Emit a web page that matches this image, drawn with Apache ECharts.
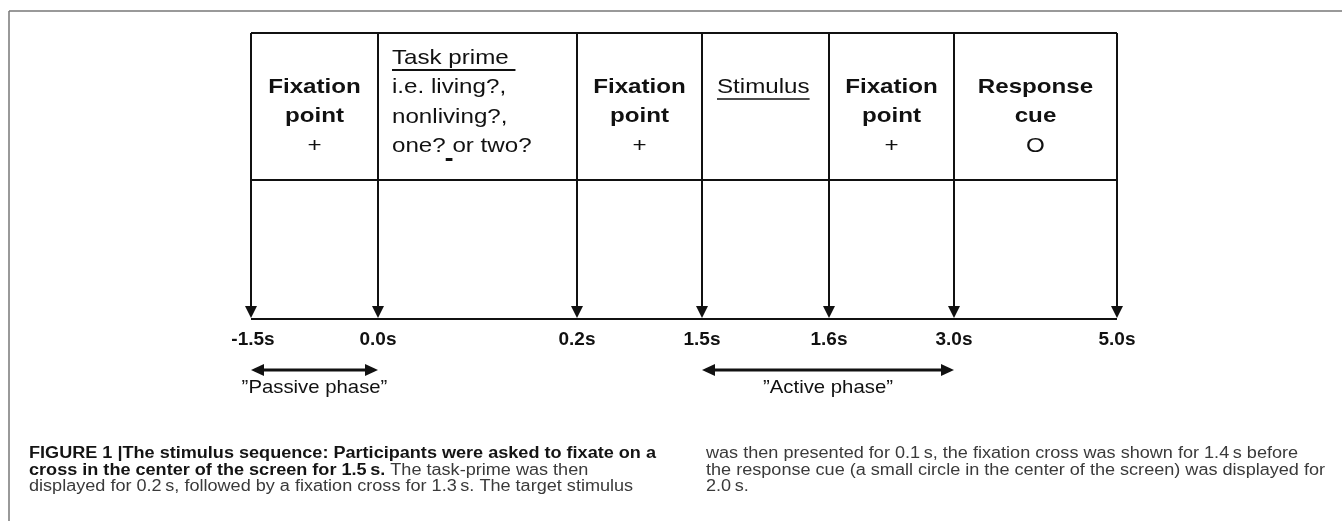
<!DOCTYPE html>
<html><head><meta charset="utf-8">
<script src="https://cdn.jsdelivr.net/npm/echarts@6/dist/echarts.min.js"></script>
<style>html,body{margin:0;padding:0;background:#fff}#c{width:1342px;height:521px}</style>
</head><body><div id="c"></div>
<script>
// ---- data ----
const eventLabels = ['-1.5s', '0.0s', '0.2s', '1.5s', '1.6s', '3.0s', '5.0s'];
const stageLines = [
  ['Fixation', 'point', '+'],
  ['Task prime ', 'i.e. living?,', 'nonliving?,', 'one? or two?'],
  ['Fixation', 'point', '+'],
  ['Stimulus'],
  ['Fixation', 'point', '+'],
  ['Response', 'cue', 'O']
];
const stageKinds = ['bold', 'prime', 'bold', 'stim', 'bold', 'bold'];
const phaseNames = ['\u201DPassive phase\u201D', '\u201DActive phase\u201D'];
const phaseStart = [0, 3];
const phaseEnd = [1, 5];
const captionLeft = [
  [['b', 'FIGURE 1 |The stimulus sequence: Participants were asked to fixate on a']],
  [['b', 'cross in the center of the screen for 1.5\u2009s.'], ['r', ' The task-prime was then']],
  [['r', 'displayed for 0.2\u2009s, followed by a fixation cross for 1.3\u2009s. The target stimulus']]
];
const captionRight = [
  [['r', 'was then presented for 0.1\u2009s, the fixation cross was shown for 1.4\u2009s before']],
  [['r', 'the response cue (a small circle in the center of the screen) was displayed for']],
  [['r', '2.0\u2009s.']]
];

// ---- layout (not data) ----
const slotWidths = [127, 199, 125, 127, 125, 163];
const slotX = [0];
slotWidths.forEach(w => slotX.push(slotX[slotX.length - 1] + w));
const FONT = 'Liberation Sans, Arial, Helvetica, sans-serif';
const INK = '#111';
const BOX_TOP = 286, DIVIDER = 139, BASE = 0;
const HFS = 21, HSX = 1.15;   // header font size / horizontal stretch

const mctx = document.createElement('canvas').getContext('2d');
function textW(t, size, weight) {
  mctx.font = (weight || 'normal') + ' ' + size + 'px ' + FONT;
  return mctx.measureText(t).width;
}
function stretchedText(t, x, y, align, size, weight, sx) {
  return {type: 'text', x: x, y: y, scaleX: sx, originX: 0, originY: 0,
    style: {text: t, x: 0, y: 0, align: align, verticalAlign: 'middle',
      fontSize: size, fontWeight: weight || 'normal', fontFamily: FONT, fill: INK}};
}

const chart = echarts.init(document.getElementById('c'), null, {renderer: 'canvas'});

function eventItem(params, api) {
  const i = params.dataIndex;
  const top = api.coord([api.value(0), BOX_TOP]);
  const base = api.coord([api.value(0), BASE]);
  const x = top[0];
  const tip = base[1] - 1;
  return {
    type: 'group',
    children: [
      {type: 'line', shape: {x1: x, y1: top[1], x2: x, y2: tip - 10}, style: {stroke: INK, lineWidth: 2}},
      {type: 'polygon', shape: {points: [[x - 6, tip - 12], [x + 6, tip - 12], [x, tip]]}, style: {fill: INK}},
      {type: 'text', style: {text: eventLabels[i], x: x + (i === 0 ? 2 : 0), y: base[1] + 21, align: 'center', verticalAlign: 'middle',
        fontSize: 19, fontWeight: 'bold', fontFamily: FONT, fill: INK}}
    ]
  };
}

function stageItem(params, api) {
  const i = params.dataIndex;
  const a = api.coord([api.value(0), BOX_TOP]);
  const b = api.coord([api.value(1), BOX_TOP]);
  const d = api.coord([api.value(0), DIVIDER]);
  const z = api.coord([api.value(0), BASE]);
  const x0 = a[0], x1 = b[0], cx = (x0 + x1) / 2;
  const children = [
    {type: 'line', shape: {x1: x0, y1: a[1], x2: x1, y2: a[1]}, style: {stroke: INK, lineWidth: 2}},
    {type: 'line', shape: {x1: x0, y1: d[1], x2: x1, y2: d[1]}, style: {stroke: INK, lineWidth: 2}},
    {type: 'line', shape: {x1: x0, y1: z[1], x2: x1, y2: z[1]}, style: {stroke: INK, lineWidth: 2}}
  ];
  const lines = stageLines[i];
  const kind = stageKinds[i];
  if (kind === 'bold') {
    lines.forEach((t, k) => {
      const isSym = (t === '+' || t === 'O');
      children.push(stretchedText(t, cx, a[1] + 54 + k * 29.5, 'center', HFS, isSym ? 'normal' : 'bold', HSX));
    });
  } else if (kind === 'prime') {
    const lx = x0 + 14;
    lines.forEach((t, k) => {
      const y = a[1] + 25 + k * 29.5;
      children.push(stretchedText(t, lx, y, 'left', HFS, 'normal', HSX));
      if (k === 0) {
        const w = textW(t, HFS) * HSX;
        children.push({type: 'line', shape: {x1: lx, y1: y + 12, x2: lx + w, y2: y + 12}, style: {stroke: INK, lineWidth: 2}});
      }
      if (k === lines.length - 1) {
        const w1 = textW('one?', HFS) * HSX, w2 = textW('one? ', HFS) * HSX;
        children.push({type: 'line', shape: {x1: lx + w1, y1: y + 13, x2: lx + w2, y2: y + 13}, style: {stroke: INK, lineWidth: 3}});
      }
    });
  } else if (kind === 'stim') {
    const lx = x0 + 15;
    const y = a[1] + 54;
    const t = lines[0];
    children.push(stretchedText(t, lx, y, 'left', HFS, 'normal', HSX));
    const w = textW(t, HFS) * HSX;
    children.push({type: 'line', shape: {x1: lx, y1: y + 12, x2: lx + w, y2: y + 12}, style: {stroke: INK, lineWidth: 1.5}});
  }
  return {type: 'group', children: children};
}

function phaseItem(params, api) {
  const i = params.dataIndex;
  const p0 = api.coord([api.value(0), BASE]);
  const p1 = api.coord([api.value(1), BASE]);
  const y = p0[1] + 51;
  const x0 = p0[0], x1 = p1[0];
  return {
    type: 'group',
    children: [
      {type: 'line', shape: {x1: x0 + 10, y1: y, x2: x1 - 10, y2: y}, style: {stroke: INK, lineWidth: 3}},
      {type: 'polygon', shape: {points: [[x0, y], [x0 + 13, y - 6], [x0 + 13, y + 6]]}, style: {fill: INK}},
      {type: 'polygon', shape: {points: [[x1, y], [x1 - 13, y - 6], [x1 - 13, y + 6]]}, style: {fill: INK}},
      stretchedText(phaseNames[i], (x0 + x1) / 2, y + 18, 'center', 19, 'normal', 1.07)
    ]
  };
}

function captionGraphics(lines, left, y0) {
  return lines.map((parts, k) => ({
    type: 'text', x: left, y: y0 + k * 16.5, scaleX: 1.13, originX: 0, originY: 0,
    style: {
      text: parts.map(p => '{' + p[0] + '|' + p[1] + '}').join(''),
      x: 0, y: 0, verticalAlign: 'middle', align: 'left',
      rich: {
        b: {fontSize: 16, fontWeight: 'bold', fontFamily: FONT, fill: '#141414'},
        r: {fontSize: 16, fontFamily: FONT, fill: '#3a3a3a'}
      }
    }
  }));
}

chart.setOption({
  animation: false,
  backgroundColor: '#fff',
  grid: {left: 251, width: slotX[slotX.length - 1], top: 33, height: 286},
  xAxis: {type: 'value', min: 0, max: slotX[slotX.length - 1], show: false},
  yAxis: {type: 'value', min: 0, max: BOX_TOP, show: false},
  series: [
    {type: 'custom', name: 'stages', renderItem: stageItem, clip: false,
      data: stageLines.map((l, i) => [slotX[i], slotX[i + 1]])},
    {type: 'custom', name: 'events', renderItem: eventItem, clip: false,
      data: eventLabels.map((l, i) => [slotX[i], BASE])},
    {type: 'custom', name: 'phases', renderItem: phaseItem, clip: false,
      data: phaseNames.map((n, i) => [slotX[phaseStart[i]], slotX[phaseEnd[i]]])}
  ],
  graphic: [
    {type: 'line', shape: {x1: 9, y1: 11, x2: 1342, y2: 11}, style: {stroke: '#777', lineWidth: 1.5}},
    {type: 'line', shape: {x1: 9, y1: 11, x2: 9, y2: 521}, style: {stroke: '#777', lineWidth: 1.5}}
  ].concat(captionGraphics(captionLeft, 29, 454)).concat(captionGraphics(captionRight, 706, 454))
});
</script></body></html>
